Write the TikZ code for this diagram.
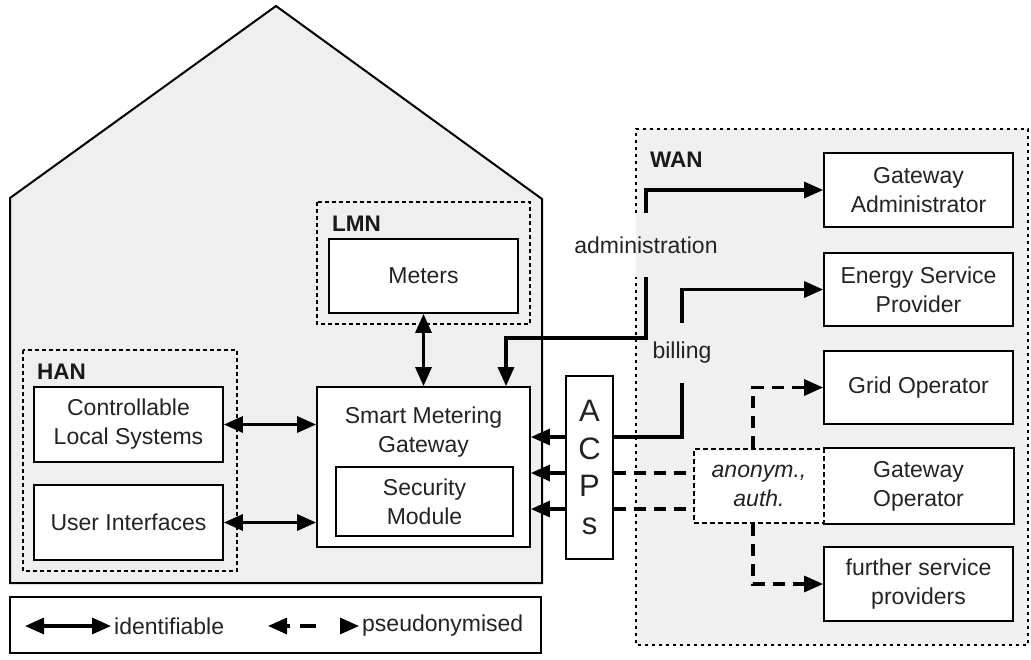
\documentclass[tikz,border=0pt]{standalone}
\usepackage{fontspec}
\setmainfont{Liberation Sans}
\usetikzlibrary{arrows.meta,calc}
\definecolor{wall}{RGB}{239,239,239}
\definecolor{wanfill}{RGB}{240,240,240}
\definecolor{ink}{RGB}{35,35,35}
\tikzset{
  txt/.style={font=\fontsize{23}{29}\selectfont, text=ink, align=center},
  box/.style={txt, draw=black, line width=1.8pt, fill=white, inner sep=0pt},
  netzone/.style={draw=black, line width=2pt, dash pattern=on 4pt off 3pt},
  wanline/.style={line width=1.6pt, dash pattern=on 3pt off 4pt},
  netname/.style={font=\fontsize{22.5}{27}\selectfont\bfseries, text=black!90, anchor=base west, inner sep=0pt},
  arr/.style={line width=3.2pt, -{Triangle[length=19pt,width=16pt]}},
  dbl/.style={line width=3.2pt, {Triangle[length=19pt,width=16pt]}-{Triangle[length=19pt,width=16pt]}},
  pseudo/.style={arr, dash pattern=on 12pt off 8pt},
}
\begin{document}
\begin{tikzpicture}[x=1pt,y=-1pt]
\useasboundingbox (0,0) rectangle (1031,659);
\fill[white] (0,0) rectangle (1031,659);

% the house with the local networks
\draw[line width=2pt, fill=wall, line join=miter]
  (10,583) -- (10,198) -- (276,6) -- (542,199) -- (542,583) -- cycle;

% wide area network: the left edge is left open behind the administration label
\fill[wanfill] (636,129) rectangle (1028,645);
\draw[wanline] (636,213) -- (636,129) -- (1028,129) -- (1028,645) -- (636,645) -- (636,277);
\node[netname] (wanname) at (650,167) {WAN};

% LMN and HAN zones
\draw[netzone] (317,202) rectangle (530,324);
\node[netname] (lmnname) at (332,231) {LMN};
\draw[netzone] (23,350) rectangle (237,571);
\node[netname] (hanname) at (37,379) {HAN};

% components in the house
\node[box, minimum width=189pt, minimum height=74pt] (meters) at (423.5,276) {Meters};
\node[box, minimum width=189pt, minimum height=75pt] (cls) at (128.5,424.5) {Controllable\\Local Systems};
\node[box, minimum width=189pt, minimum height=75pt] (ui) at (128.5,522.5) {User Interfaces};
\node[box, minimum width=213pt, minimum height=160pt] (smg) at (423.5,467) {};
\node[txt, inner sep=0pt] (smgtitle) at (423.5,432) {Smart Metering\\Gateway};
\node[box, minimum width=177pt, minimum height=69pt] (sec) at (424.5,501.5) {Security\\Module};
\node[box, minimum width=47pt, minimum height=183pt, font=\fontsize{31}{37.7}\selectfont]
  (acps) at (589.5,467.5) {A\\C\\P\\s};

% parties in the WAN
\node[box, minimum width=189pt, minimum height=74pt] (gwadmin) at (918.5,190) {Gateway\\Administrator};
\node[box, minimum width=189pt, minimum height=73pt] (esp) at (918.5,289.5) {Energy Service\\Provider};
\node[box, minimum width=189pt, minimum height=73pt] (grid) at (918.5,387.5) {Grid Operator};
\node[box, draw=none, minimum width=189pt, minimum height=74pt] (gwop) at (918.5,486) {Gateway\\Operator};
\draw[line width=1.8pt] (gwop.north west) -- (gwop.north east) -- (gwop.south east) -- (gwop.south west);
\node[box, line width=1.5pt, dash pattern=on 5pt off 3pt, minimum width=130pt, minimum height=74pt,
  font=\fontsize{23}{29}\selectfont\itshape] (anon) at (759,486) {anonym.,\\auth.};
\node[box, minimum width=189pt, minimum height=74pt] (fsp) at (918.5,584) {further service\\providers};

% flow labels
\node[txt, inner xsep=3pt, inner ysep=0pt, minimum height=64pt] (admin) at (646,245) {administration};
\node[txt, inner xsep=2pt, inner ysep=0pt, minimum height=60pt] (bill) at (682,353) {billing};

% helper points for the connectors
\coordinate (admbend) at (506,338);
\coordinate (r1) at (0,437);
\coordinate (r2) at (0,473);
\coordinate (r3) at (0,509);
\coordinate (vx) at (753,0);

% identifiable links inside the house
\draw[dbl] (meters.south) -- (smg.north);
\draw[dbl] (cls.east) -- (cls.east -| smg.west);
\draw[dbl] (ui.east) -- (ui.east -| smg.west);

% links through the ACPs
\draw[arr] (acps.west |- r1) -- (smg.east |- r1);
\draw[arr] (acps.west |- r2) -- (smg.east |- r2);
\draw[arr] (acps.west |- r3) -- (smg.east |- r3);

% administration and billing
\draw[arr] (admin.north) |- (gwadmin.west);
\draw[arr] (admin.south) |- (admbend) -- (admbend |- smg.north);
\draw[arr] (bill.north) |- (esp.west);
\draw[line width=3.2pt] (bill.south) |- (acps.east |- r1);

% pseudonymised links
\draw[line width=3.2pt, dash pattern=on 12pt off 8pt] (acps.east |- r2) -- (anon.west |- r2);
\draw[line width=3.2pt, dash pattern=on 12pt off 8pt] (acps.east |- r3) -- (anon.west |- r3);
\draw[pseudo] (anon.north -| vx) |- (grid.west);
\draw[pseudo] (anon.south -| vx) |- (fsp.west);

% legend
\node[draw=black, line width=2pt, fill=white, minimum width=531pt, minimum height=56pt, inner sep=0pt]
  (legend) at (275.5,625) {};
\coordinate (la) at (25,626);
\coordinate (lb) at (111,626);
\coordinate (lc) at (268,626);
\coordinate (ld) at (359,626);
\draw[dbl] (la) -- (lb);
\node[txt, anchor=west, inner sep=0pt] (lidt) at (114,626) {identifiable};
\draw[dbl, dash pattern=on 4pt off 10pt on 16pt off 100pt] (lc) -- (ld);
\node[txt, anchor=west, inner sep=0pt] (lpsd) at (362,626) {pseudonymised};
\end{tikzpicture}
\end{document}
